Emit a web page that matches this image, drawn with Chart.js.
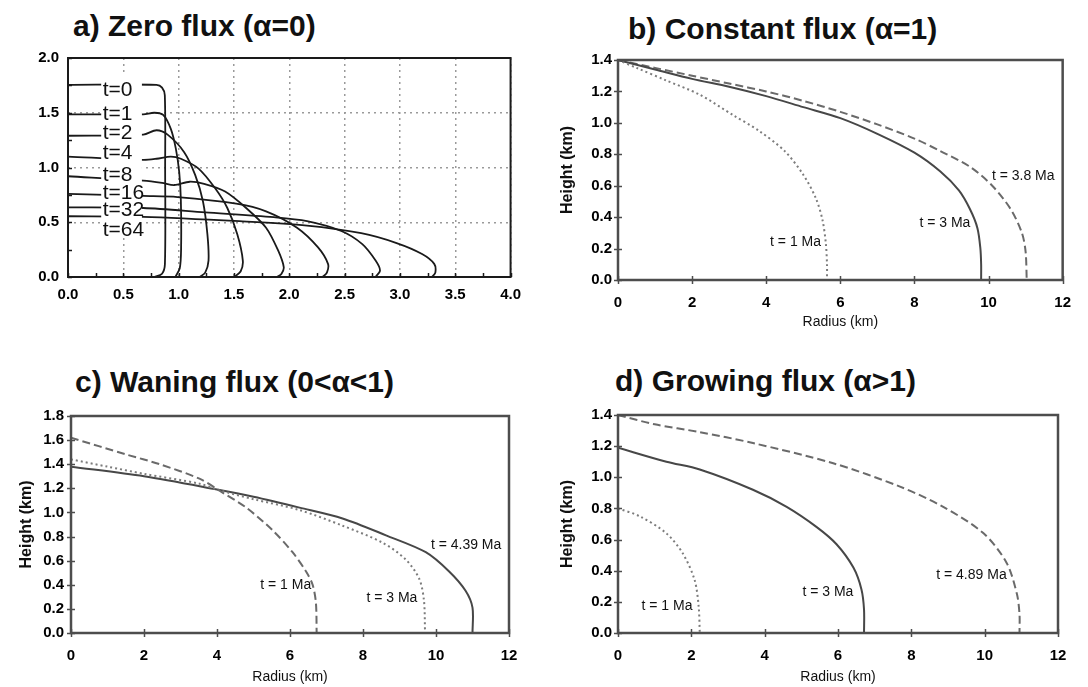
<!DOCTYPE html>
<html>
<head>
<meta charset="utf-8">
<script src="https://cdn.jsdelivr.net/npm/chart.js@4.4.1/dist/chart.umd.min.js"></script>
<style>
  body { margin: 0; width: 1088px; height: 687px; background: #fff; position: relative; overflow: hidden;
         font-family: "Liberation Sans", Arial, sans-serif; }
  canvas { position: absolute; }
  .ttl { position: absolute; font-weight: bold; font-size: 30px; line-height: 30px; white-space: nowrap; color: #111; }
</style>
</head>
<body>
<div class="ttl" style="left:73px;top:11px">a) Zero flux (α=0)</div>
<div class="ttl" style="left:628px;top:14px">b) Constant flux (α=1)</div>
<div class="ttl" style="left:75px;top:367px">c) Waning flux (0&lt;α&lt;1)</div>
<div class="ttl" style="left:615px;top:366px">d) Growing flux (α&gt;1)</div>

<canvas id="chartA" width="530" height="267" style="left:0;top:40px"></canvas>
<canvas id="chartB" width="527" height="286" style="left:558px;top:45px"></canvas>
<canvas id="chartC" width="520" height="286" style="left:17px;top:400px"></canvas>
<canvas id="chartD" width="527" height="286" style="left:558px;top:400px"></canvas>

<script>
// a) zero flux: [radius, height] profiles, labels t=0 .. t=64
const zeroT0  = [[0,1.755],[0.8,1.755],[0.85,1.73],[0.875,1.66],[0.878,1.0],[0.876,0.12],[0.85,0.03],[0.78,0]];
const zeroT1  = [[0,1.486],[0.68,1.486],[0.78,1.50],[0.86,1.48],[0.93,1.35],[0.975,1.17],[1.005,0.96],[1.02,0.70],[1.022,0.25],[1.01,0.08],[0.97,0]];
const zeroT2  = [[0,1.29],[0.68,1.30],[0.8,1.34],[0.9,1.30],[1.05,1.14],[1.15,0.93],[1.22,0.69],[1.26,0.39],[1.27,0.15],[1.24,0.04],[1.19,0]];
const zeroT4  = [[0,1.10],[0.68,1.07],[0.8,1.08],[0.93,1.10],[1.02,1.08],[1.18,0.99],[1.33,0.81],[1.44,0.63],[1.53,0.39],[1.58,0.15],[1.56,0.05],[1.5,0]];
const zeroT8  = [[0,0.92],[0.68,0.88],[0.85,0.86],[0.96,0.84],[1.1,0.87],[1.23,0.85],[1.42,0.78],[1.61,0.63],[1.79,0.45],[1.9,0.24],[1.95,0.09],[1.93,0.03],[1.89,0]];
const zeroT16 = [[0,0.76],[0.68,0.74],[0.99,0.73],[1.52,0.67],[1.79,0.60],[2.07,0.45],[2.26,0.27],[2.35,0.12],[2.34,0.04],[2.3,0]];
const zeroT32 = [[0,0.636],[0.68,0.63],[1.24,0.59],[1.86,0.546],[2.16,0.51],[2.47,0.42],[2.66,0.30],[2.78,0.15],[2.82,0.06],[2.78,0]];
const zeroT64 = [[0,0.555],[0.68,0.55],[1.55,0.51],[2.16,0.47],[2.65,0.40],[2.97,0.31],[3.2,0.21],[3.31,0.12],[3.32,0.04],[3.29,0]];
const zeroLabels = ["t=0","t=1","t=2","t=4","t=8","t=16","t=32","t=64"];
const zeroLabelY = [1.71, 1.483, 1.31, 1.13, 0.926, 0.767, 0.61, 0.424];

// b) constant flux
const constT1  = [[0,1.4],[0.5,1.35],[1.3,1.27],[2.2,1.18],[3.1,1.05],[3.8,0.95],[4.5,0.82],[5.0,0.67],[5.34,0.52],[5.52,0.38],[5.61,0.23],[5.64,0.1],[5.64,0]];
const constT3  = [[0,1.4],[1,1.34],[2,1.28],[3,1.23],[4,1.17],[5,1.1],[6,1.03],[7,0.93],[8,0.81],[8.7,0.69],[9.2,0.57],[9.5,0.45],[9.7,0.33],[9.78,0.2],[9.8,0.1],[9.8,0]];
const constT38 = [[0,1.4],[1,1.35],[2,1.3],[3,1.25],[4,1.2],[5,1.14],[6,1.07],[7,0.99],[8,0.9],[8.7,0.82],[9.5,0.72],[10.1,0.6],[10.6,0.45],[10.9,0.3],[11.0,0.18],[11.03,0]];

// c) waning flux
const waneT1   = [[0,1.62],[1.52,1.48],[2.43,1.40],[3.52,1.28],[4.07,1.18],[4.8,1.04],[5.53,0.85],[6.07,0.67],[6.44,0.51],[6.62,0.4],[6.71,0.25],[6.73,0]];
const waneT3   = [[0,1.44],[1,1.38],[2,1.32],[3.5,1.24],[4,1.19],[5,1.11],[6.26,1.02],[7.44,0.89],[8.53,0.75],[9.17,0.61],[9.54,0.45],[9.67,0.27],[9.7,0]];
const waneT439 = [[0,1.38],[2,1.30],[4,1.19],[5,1.13],[6.26,1.04],[7.44,0.95],[8.63,0.81],[9.72,0.67],[10.36,0.51],[10.81,0.35],[11.0,0.21],[11.0,0]];

// d) growing flux
const growT1   = [[0,0.80],[0.59,0.75],[1.32,0.64],[1.77,0.51],[2.09,0.34],[2.2,0.17],[2.23,0]];
const growT3   = [[0,1.19],[1.32,1.10],[2.23,1.05],[3.68,0.92],[4.6,0.81],[5.42,0.68],[5.96,0.57],[6.42,0.42],[6.64,0.28],[6.71,0.15],[6.71,0]];
const growT489 = [[0,1.40],[1,1.34],[2.23,1.29],[3.68,1.22],[5.87,1.09],[7.69,0.94],[8.87,0.81],[9.97,0.64],[10.6,0.45],[10.88,0.25],[10.95,0.12],[10.95,0]];

const toPts = arr => arr.map(([x, y]) => ({ x, y }));

// frame round the plot area plus short tick marks crossing the axes
const frame = {
  id: "frame",
  afterDatasetsDraw(chart, args, o) {
    const { ctx, chartArea: a, scales: { x, y } } = chart;
    ctx.save();
    ctx.strokeStyle = o.color;
    ctx.lineWidth = o.tickWidth;
    for (let v = x.min; v <= x.max + 1e-9; v += o.xStep) {
      const p = Math.round(x.getPixelForValue(v)) + 0.5;
      ctx.beginPath(); ctx.moveTo(p, a.bottom - o.inLen); ctx.lineTo(p, a.bottom + o.outLen); ctx.stroke();
    }
    for (let v = y.min; v <= y.max + 1e-9; v += o.yStep) {
      const p = Math.round(y.getPixelForValue(v)) + 0.5;
      ctx.beginPath(); ctx.moveTo(a.left - o.outLen, p); ctx.lineTo(a.left + o.inLen, p); ctx.stroke();
    }
    ctx.lineWidth = o.width;
    ctx.strokeRect(a.left, a.top, a.right - a.left, a.bottom - a.top);
    ctx.restore();
  }
};

// curve labels, optionally on a white patch that hides the lines under them
const curveLabels = {
  id: "curveLabels",
  afterDatasetsDraw(chart, args, o) {
    const { ctx, scales: { x, y } } = chart;
    ctx.save();
    if (o.blank) {
      const b = o.blank;
      ctx.fillStyle = "#fff";
      ctx.fillRect(x.getPixelForValue(b.x0), y.getPixelForValue(b.y1),
        x.getPixelForValue(b.x1) - x.getPixelForValue(b.x0), y.getPixelForValue(b.y0) - y.getPixelForValue(b.y1));
    }
    ctx.font = o.font;
    ctx.fillStyle = o.color;
    ctx.textBaseline = "middle";
    o.items.forEach(it => {
      ctx.textAlign = it.align || "left";
      ctx.fillText(it.text, x.getPixelForValue(it.x), y.getPixelForValue(it.y));
    });
    ctx.restore();
  }
};

function line(data, style) {
  const dash = { solid: [], dashed: [8, 4], dotted: [2, 3] }[style.kind];
  return {
    data: toPts(data),
    showLine: true,
    borderColor: style.color,
    borderWidth: style.width,
    borderDash: dash,
    pointRadius: 0,
    tension: 0.3,
    fill: false,
  };
}

function profileChart(id, datasets, o) {
  return new Chart(document.getElementById(id), {
    type: "scatter",
    data: { datasets },
    options: {
      responsive: false,
      animation: false,
      events: [],
      layout: { padding: { top: o.padTop, right: o.padRight, left: 0, bottom: 0 } },
      plugins: {
        legend: { display: false },
        tooltip: { enabled: false },
        frame: o.frame,
        curveLabels: o.labels,
      },
      scales: {
        x: {
          type: "linear", min: o.xMin, max: o.xMax,
          ticks: { stepSize: o.xStep, autoSkip: false, maxRotation: 0, padding: o.xPad, color: "#000",
                   font: { family: "Liberation Sans", weight: "bold", size: 15 }, callback: o.xFmt },
          grid: { display: o.grid, drawTicks: false, color: "#9a9a9a", lineWidth: 1.5 },
          border: { display: false, dash: [2, 4] },
          title: o.xTitle ? { display: true, text: o.xTitle, padding: 0, color: "#111",
                   font: { family: "Liberation Sans", size: 14 } } : { display: false },
          afterFit(s) { s.height = o.xAxisH; },
        },
        y: {
          type: "linear", min: 0, max: o.yMax,
          ticks: { stepSize: o.yStep, autoSkip: false, padding: o.yPad, color: "#000",
                   font: { family: "Liberation Sans", weight: "bold", size: 15 }, callback: v => v.toFixed(1) },
          grid: { display: o.grid, drawTicks: false, color: "#9a9a9a", lineWidth: 1.5 },
          border: { display: false, dash: [2, 4] },
          title: o.yTitle ? { display: true, text: o.yTitle, padding: 0, color: "#111",
                   font: { family: "Liberation Sans", weight: "bold", size: 16 } } : { display: false },
          afterFit(s) { s.width = o.yAxisW; },
        },
      },
    },
    plugins: [frame, curveLabels],
  });
}

// ---- a) Zero flux
const zeroCurves = [zeroT0, zeroT1, zeroT2, zeroT4, zeroT8, zeroT16, zeroT32, zeroT64];
profileChart("chartA",
  zeroCurves.map(c => line(c, { kind: "solid", color: "#1a1a1a", width: 1.8 })),
  {
    padTop: 13, padRight: 18, yAxisW: 68, xAxisH: 30, xPad: 9, yPad: 9,
    xMin: 0, xMax: 4, xStep: 0.5, yMax: 2, yStep: 0.5, grid: true,
    xFmt: v => v.toFixed(1),
    frame: { color: "#1a1a1a", width: 2, tickWidth: 1.5, xStep: 0.25, yStep: 0.25, inLen: 4, outLen: 0 },
    labels: {
      font: "21px 'Liberation Sans'", color: "#111",
      blank: { x0: 0.3, x1: 0.668, y0: 0.36, y1: 1.84 },
      items: zeroLabels.map((t, i) => ({ text: t, x: 0.313, y: zeroLabelY[i] })),
    },
  });

const dark = "#474747", mid = "#6a6a6a", light = "#7c7c7c";
const maFont = "14px 'Liberation Sans'";
const frameBCD = { color: "#4d4d4d", width: 2.5, tickWidth: 1.5, xStep: 2, yStep: 0.2, inLen: 4, outLen: 4 };

// ---- b) Constant flux
profileChart("chartB",
  [line(constT1, { kind: "dotted", color: light, width: 2 }),
   line(constT3, { kind: "solid", color: dark, width: 2 }),
   line(constT38, { kind: "dashed", color: mid, width: 2 })],
  {
    padTop: 13, padRight: 21, yAxisW: 60, xAxisH: 51, xPad: 14, yPad: 6,
    xMin: 0, xMax: 12, xStep: 2, yMax: 1.4, yStep: 0.2, grid: false,
    xFmt: v => String(v), xTitle: "Radius (km)", yTitle: "Height (km)",
    frame: frameBCD,
    labels: {
      font: maFont, color: "#111",
      items: [
        { text: "t = 1 Ma", x: 5.48, y: 0.24, align: "right" },
        { text: "t = 3 Ma", x: 9.51, y: 0.36, align: "right" },
        { text: "t = 3.8 Ma", x: 10.09, y: 0.66 },
      ],
    },
  });

// ---- c) Waning flux
profileChart("chartC",
  [line(waneT1, { kind: "dashed", color: mid, width: 2 }),
   line(waneT3, { kind: "dotted", color: light, width: 2 }),
   line(waneT439, { kind: "solid", color: dark, width: 2 })],
  {
    padTop: 9, padRight: 28, yAxisW: 54, xAxisH: 53, xPad: 14, yPad: 7,
    xMin: 0, xMax: 12, xStep: 2, yMax: 1.8, yStep: 0.2, grid: false,
    xFmt: v => String(v), xTitle: "Radius (km)", yTitle: "Height (km)",
    frame: frameBCD,
    labels: {
      font: maFont, color: "#111",
      items: [
        { text: "t = 1 Ma", x: 6.58, y: 0.40, align: "right" },
        { text: "t = 3 Ma", x: 9.49, y: 0.29, align: "right" },
        { text: "t = 4.39 Ma", x: 9.86, y: 0.73 },
      ],
    },
  });

// ---- d) Growing flux
profileChart("chartD",
  [line(growT1, { kind: "dotted", color: light, width: 2 }),
   line(growT3, { kind: "solid", color: dark, width: 2 }),
   line(growT489, { kind: "dashed", color: mid, width: 2 })],
  {
    padTop: 13, padRight: 27, yAxisW: 60, xAxisH: 53, xPad: 14, yPad: 6,
    xMin: 0, xMax: 12, xStep: 2, yMax: 1.4, yStep: 0.2, grid: false,
    xFmt: v => String(v), xTitle: "Radius (km)", yTitle: "Height (km)",
    frame: frameBCD,
    labels: {
      font: maFont, color: "#111",
      items: [
        { text: "t = 1 Ma", x: 2.03, y: 0.17, align: "right" },
        { text: "t = 3 Ma", x: 6.42, y: 0.265, align: "right" },
        { text: "t = 4.89 Ma", x: 10.6, y: 0.37, align: "right" },
      ],
    },
  });
</script>
</body>
</html>
